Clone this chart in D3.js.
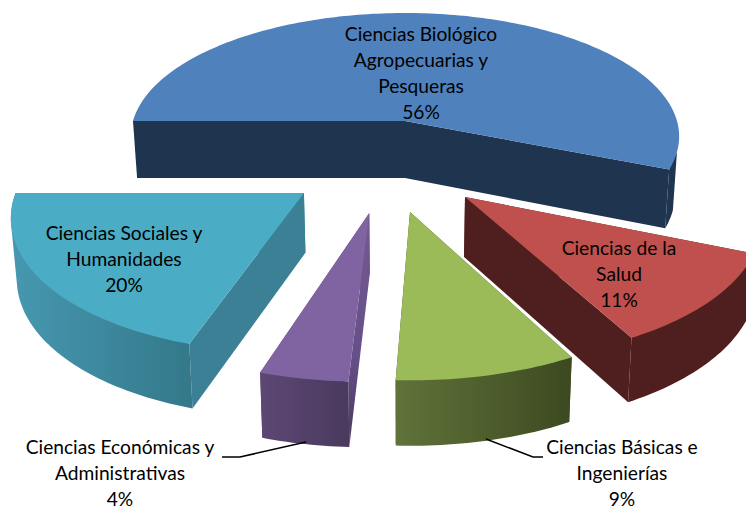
<!DOCTYPE html>
<html><head><meta charset="utf-8">
<style>html,body{margin:0;padding:0;background:#fff}svg{display:block}text{font-family:Lato,"Open Sans",sans-serif;font-size:19.2px;fill:#000}</style>
<script src="https://cdn.jsdelivr.net/npm/d3@7/dist/d3.min.js"></script>
</head><body><svg id="c" width="746" height="510"></svg>
<script>
// --- data ---
const categories = ["Ciencias Biológico Agropecuarias y Pesqueras","Ciencias de la Salud","Ciencias Básicas e Ingenierías","Ciencias Económicas y Administrativas","Ciencias Sociales y Humanidades"];
const shares = [56.2, 10.9, 8.6, 4.2, 20.1];
const labelLines = [["Ciencias Biológico","Agropecuarias y","Pesqueras"],["Ciencias de la","Salud"],["Ciencias Básicas e","Ingenierías"],["Ciencias Económicas y","Administrativas"],["Ciencias Sociales y","Humanidades"]];
// --- style / layout ---
const topColors = ["#4F81BD","#C0504D","#9BBB59","#8064A2","#4BACC6"];
const cutColors = ["#1F344F","#4E1F1E","#3F4C22","#6D5590","#3B8095"];
const rimLeft   = ["#1F344F","#4E1F1E","#60733A","#5D4774","#4698B0"];
const rimRight  = ["#1F344F","#4E1F1E","#3D4920","#4A3A5E","#34788A"];
const explodeX = [0, 0.2046, 0.0168, -0.12, -0.346];
const explodeY = [0, 0.58, 0.685, 0.692, 0.552];
const radius = [1, 1, 1, 1, 0.987];
const labelAnchor = [[421,35],[619,249],[622,448],[120,448],[124,234]];
const leaders = [null,null,[[486,439],[533,457],[543,457]],[[222,457],[240,457],[306,442]],null];
const drawOrder = [0,1,4,3,2];

const persp = 0.125, bottomShrink = 0.985;
const sx = d3.scaleLinear().domain([-1,1]).range([405-272,405+272]);
const sy = d3.scaleLinear().domain([0,1]).range([121,121+121.5]);
const depth = d3.scaleLinear().domain([1,0.8]).range([57,65]);

function project(X,Y,lower){
  const w = 1 - persp*Y;
  let x = sx(X/w), y = sy(Y/w);
  if(lower){ x = 405 + (x-405)*bottomShrink; y += depth(w); }
  return [x,y];
}
const pie = d3.pie().sort(null).startAngle(-Math.PI/2).endAngle(1.5*Math.PI);
const arcs = pie(shares);
const svg = d3.select("#c");
const defs = svg.append("defs");
const line = d3.line();

function rimPoint(i,a,lower){
  return project(explodeX[i]+radius[i]*Math.sin(a), explodeY[i]-radius[i]*Math.cos(a), lower);
}
function anglesBetween(a0,a1){
  const n = Math.max(2,Math.ceil((a1-a0)/0.02));
  return d3.range(n+1).map(k=>a0+(a1-a0)*k/n);
}
drawOrder.forEach(i=>{
  const d = arcs[i], a0=d.startAngle, a1=d.endAngle;
  const apexT = project(explodeX[i],explodeY[i],false), apexB = project(explodeX[i],explodeY[i],true);
  const angs = anglesBetween(a0,a1);
  const topPts = [apexT,...angs.map(a=>rimPoint(i,a,false))];
  const g = svg.append("g");
  // faint light edge against slices behind
  g.append("path").attr("d",line(topPts)+"Z").attr("fill","none").attr("stroke","#fff").attr("stroke-width",1.6);
  // cut faces
  let cutFill = cutColors[i];
  if(i===3){
    defs.append("linearGradient").attr("id","cut3").attr("gradientUnits","userSpaceOnUse")
      .attr("x1",0).attr("x2",0).attr("y1",apexT[1]).attr("y2",apexB[1]+170)
      .selectAll("stop").data([[0,"#73598F"],[0.6,"#67508A"],[1,"#4A3A5E"]]).join("stop")
      .attr("offset",s=>s[0]).attr("stop-color",s=>s[1]);
    cutFill = "url(#cut3)";
  }
  [a0,a1].forEach(a=>{
    const pts=[apexT,rimPoint(i,a,false),rimPoint(i,a,true),apexB];
    g.append("path").attr("d",line(pts)+"Z").attr("fill",cutFill);
  });
  // outer wall: the part of the rim that faces the viewer, closed as a hull
  const f0 = Math.max(a0,Math.PI/2+0.25), f1 = Math.min(a1,1.5*Math.PI);
  if(f1>f0){
    const fa = anglesBetween(f0,f1);
    const tp = fa.map(a=>rimPoint(i,a,false)), bp = fa.map(a=>rimPoint(i,a,true));
    const hull = d3.polygonHull(tp.concat(bp));
    const xs = hull.map(p=>p[0]);
    const id = "rim"+i;
    const lg = defs.append("linearGradient").attr("id",id).attr("gradientUnits","userSpaceOnUse")
      .attr("x1",d3.min(xs)).attr("x2",d3.max(xs)).attr("y1",0).attr("y2",0);
    lg.append("stop").attr("offset",0).attr("stop-color",rimLeft[i]);
    lg.append("stop").attr("offset",1).attr("stop-color",rimRight[i]);
    g.append("path").attr("d",line(hull)+"Z").attr("fill",`url(#${id})`);
  }
  // top surface
  g.append("path").attr("d",line(topPts)+"Z").attr("fill",topColors[i]);
});
// leaders
leaders.forEach(l=>{ if(l) svg.append("path").attr("d",line(l)).attr("fill","none").attr("stroke","#000").attr("stroke-width",1.5); });
// labels
const pct = d3.format(".0f");
categories.forEach((c,i)=>{
  const t = svg.append("text").attr("text-anchor","middle").attr("aria-label",c);
  labelLines[i].concat([pct(shares[i])+"%"]).forEach((s,k)=>{
    t.append("tspan").attr("x",labelAnchor[i][0]).attr("y",labelAnchor[i][1]+k*26+6).text(s);
  });
});
</script></body></html>
